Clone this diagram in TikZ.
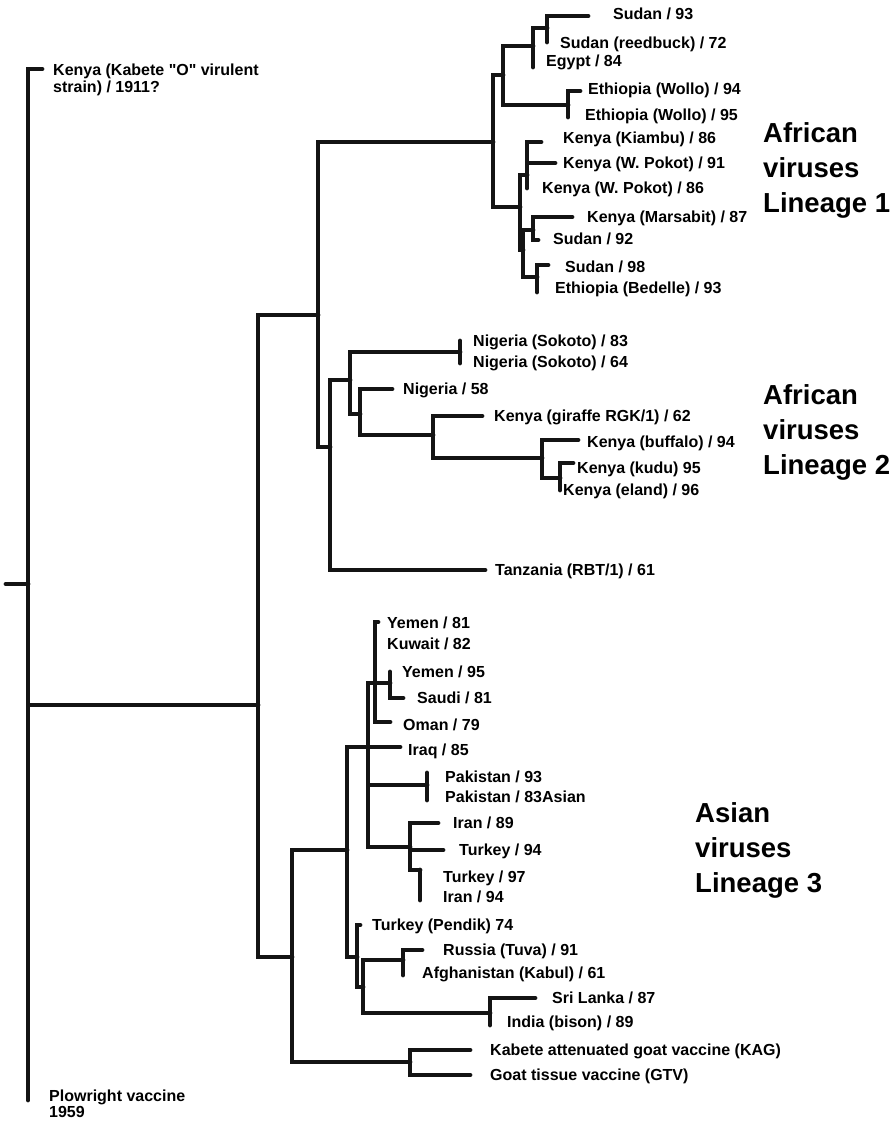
\documentclass[tikz,border=0pt]{standalone}
\usepackage{fontspec}
\setmainfont{Liberation Sans}
\usetikzlibrary{positioning}
\newcommand{\straightquote}{{\XeTeXglyph\XeTeXcharglyph"22\relax}}

\begin{document}
\begin{tikzpicture}[x=1pt,y=-1pt,line cap=round]
		\tikzstyle{branch}=[line width=4.8pt, color=black!92]
		\tikzstyle{tip}=[anchor=west, inner sep=0pt, text height=11.5pt, text depth=0.5pt, font=\bfseries\fontsize{16}{17}\selectfont]
		\tikzstyle{lineage}=[anchor=west, inner sep=0pt, align=left, font=\bfseries\fontsize{27.5}{35}\selectfont]
		\useasboundingbox (0,0) rectangle (891,1123);
		% root and outgroups
		\coordinate (rt) at (6,584);
		\coordinate (r) at (28,584);
		\coordinate (kab) at (42,69);
		\coordinate (plw) at (28,1100);
		\coordinate (m1) at (258,705);
		\coordinate (af) at (318,315);
		\coordinate (as) at (292,957);
		% lineage 1
		\coordinate (l1) at (493,142);
		\coordinate (a1) at (503,75);
		\coordinate (a11) at (533,46);
		\coordinate (a111) at (547,28);
		\coordinate (sud93) at (588,16);
		\coordinate (reed) at (547,42);
		\coordinate (egy) at (533,67);
		\coordinate (a12) at (568,105);
		\coordinate (eth94) at (580,91);
		\coordinate (eth95) at (568,117);
		\coordinate (a2) at (520,207);
		\coordinate (a21) at (527,175);
		\coordinate (kiam) at (541,142);
		\coordinate (pok91) at (555,163);
		\coordinate (pok86) at (527,188);
		\coordinate (a22) at (523,250);
		\coordinate (a221) at (533,230);
		\coordinate (mars) at (572,217);
		\coordinate (sud92) at (538,240);
		\coordinate (a222) at (537,277);
		\coordinate (sud98) at (548,265);
		\coordinate (bed) at (537,292);
		% lineage 2
		\coordinate (l2) at (330,447);
		\coordinate (b1) at (350,380);
		\coordinate (tanz) at (485,570);
		\coordinate (b11) at (460,352);
		\coordinate (sok83) at (460,341);
		\coordinate (sok64) at (460,363);
		\coordinate (b12) at (360,414);
		\coordinate (nig58) at (392,389);
		\coordinate (b121) at (433,435);
		\coordinate (gir) at (482,416);
		\coordinate (b122) at (542,458);
		\coordinate (buf) at (578,440);
		\coordinate (b123) at (560,478);
		\coordinate (kudu) at (573,463);
		\coordinate (eland) at (560,490);
		% lineage 3
		\coordinate (l3) at (347,850);
		\coordinate (iraq) at (400,747);
		\coordinate (c1) at (368,747);
		\coordinate (c11) at (375,683);
		\coordinate (yem81) at (378,622);
		\coordinate (c12) at (390,683);
		\coordinate (yem95) at (390,672);
		\coordinate (saudi) at (403,698);
		\coordinate (oman) at (390,722);
		\coordinate (pk) at (427,785);
		\coordinate (pak93) at (427,773);
		\coordinate (pak83) at (427,800);
		\coordinate (it) at (410,847);
		\coordinate (iran89) at (438,823);
		\coordinate (tur94) at (443,850);
		\coordinate (it2) at (420,870);
		\coordinate (iran94) at (420,900);
		\coordinate (d1) at (357,957);
		\coordinate (pend) at (360,925);
		\coordinate (d2) at (363,987);
		\coordinate (ru) at (403,960);
		\coordinate (tuva) at (422,950);
		\coordinate (kabul) at (403,975);
		\coordinate (sl) at (490,1013);
		\coordinate (lanka) at (535,998);
		\coordinate (bison) at (490,1025);
		\coordinate (kg) at (410,1062);
		\coordinate (kagt) at (470,1050);
		\coordinate (gtvt) at (470,1075);

		\draw[branch] (rt) -- (r) (r) |- (kab) (r) |- (plw) (r) |- (m1);
		\draw[branch] (m1) |- (af) (m1) |- (as) (af) |- (l1) (af) |- (l2);
		\draw[branch] (l1) |- (a1) (l1) |- (a2) (a1) |- (a11) (a1) |- (a12);
		\draw[branch] (a11) |- (a111) (a11) |- (egy) (a111) |- (sud93) (a111) |- (reed);
		\draw[branch] (a12) |- (eth94) (a12) |- (eth95);
		\draw[branch] (a2) |- (a21) (a2) |- (a22) (a21) |- (kiam) (a21) |- (pok91) (a21) |- (pok86);
		\draw[branch] (a22) |- (a221) (a22) |- (a222) (a221) |- (mars) (a221) |- (sud92) (a222) |- (sud98) (a222) |- (bed);
		\draw[branch] (l2) |- (b1) (l2) |- (tanz) (b1) |- (b11) (b1) |- (b12) (b11) |- (sok83) (b11) |- (sok64);
		\draw[branch] (b12) |- (nig58) (b12) |- (b121) (b121) |- (gir) (b121) |- (b122);
		\draw[branch] (b122) |- (buf) (b122) |- (b123) (b123) |- (kudu) (b123) |- (eland);
		\draw[branch] (as) |- (l3) (as) |- (kg) (kg) |- (kagt) (kg) |- (gtvt);
		\draw[branch] (l3) |- (iraq) (l3) |- (c1) (l3) |- (d1);
		\draw[branch] (c1) |- (c11) (c1) |- (pk) (c1) |- (it);
		\draw[branch] (c11) |- (yem81) (c11) |- (c12) (c11) |- (oman) (c12) |- (yem95) (c12) |- (saudi);
		\draw[branch] (pk) |- (pak93) (pk) |- (pak83) (it) |- (iran89) (it) |- (tur94) (it) |- (it2) (it2) |- (iran94);
		\draw[branch] (d1) |- (pend) (d1) |- (d2) (d2) |- (ru) (d2) |- (sl);
		\draw[branch] (ru) |- (tuva) (ru) |- (kabul) (sl) |- (lanka) (sl) |- (bison);

		% tip labels
		\node[anchor=west, inner sep=0pt, align=left, font=\bfseries\fontsize{16}{16.5}\selectfont] (nkab) at (53,80) {Kenya (Kabete \straightquote O\straightquote\ virulent\\strain) / 1911?};
		\node[anchor=west, inner sep=0pt, align=left, font=\bfseries\fontsize{16}{16.5}\selectfont] (nplw) at (49,1104) {Plowright vaccine\\1959};
		\node[tip] (nsud93) at (613,14) {Sudan / 93};
		\node[tip] (nreed) at (560,43) {Sudan (reedbuck) / 72};
		\node[tip] (negy) at (546,61) {Egypt / 84};
		\node[tip] (neth94) at (588,89) {Ethiopia (Wollo) / 94};
		\node[tip] (neth95) at (585,115) {Ethiopia (Wollo) / 95};
		\node[tip] (nkiam) at (563,138) {Kenya (Kiambu) / 86};
		\node[tip] (npok91) at (563,163) {Kenya (W. Pokot) / 91};
		\node[tip] (npok86) at (542,188) {Kenya (W. Pokot) / 86};
		\node[tip] (nmars) at (587,217) {Kenya (Marsabit) / 87};
		\node[tip] (nsud92) at (553,239) {Sudan / 92};
		\node[tip] (nsud98) at (565,267) {Sudan / 98};
		\node[tip] (nbed) at (555,288) {Ethiopia (Bedelle) / 93};
		\node[tip] (nsok83) at (473,341) {Nigeria (Sokoto) / 83};
		\node[tip] (nsok64) at (473,362) {Nigeria (Sokoto) / 64};
		\node[tip] (nnig58) at (403,389) {Nigeria / 58};
		\node[tip] (ngir) at (494,416) {Kenya (giraffe RGK/1) / 62};
		\node[tip] (nbuf) at (587,442) {Kenya (buffalo) / 94};
		\node[tip] (nkudu) at (577,468) {Kenya (kudu) 95};
		\node[tip] (neland) at (563,490) {Kenya (eland) / 96};
		\node[tip] (ntanz) at (495,570) {Tanzania (RBT/1) / 61};
		\node[tip] (nyem81) at (387,623) {Yemen / 81};
		\node[tip] (nkuw) at (387,644) {Kuwait / 82};
		\node[tip] (nyem95) at (402,672) {Yemen / 95};
		\node[tip] (nsaudi) at (417,698) {Saudi / 81};
		\node[tip] (noman) at (403,725) {Oman / 79};
		\node[tip] (niraq) at (408,750) {Iraq / 85};
		\node[tip] (npak93) at (445,777) {Pakistan / 93};
		\node[tip] (npak83) at (445,797) {Pakistan / 83Asian};
		\node[tip] (niran89) at (453,823) {Iran / 89};
		\node[tip] (ntur94) at (459,850) {Turkey / 94};
		\node[tip] (ntur97) at (443,877) {Turkey / 97};
		\node[tip] (niran94) at (443,897) {Iran / 94};
		\node[tip] (npend) at (372,925) {Turkey (Pendik) 74};
		\node[tip] (ntuva) at (443,950) {Russia (Tuva) / 91};
		\node[tip] (nkabul) at (422,973) {Afghanistan (Kabul) / 61};
		\node[tip] (nlanka) at (552,998) {Sri Lanka / 87};
		\node[tip] (nbison) at (507,1022) {India (bison) / 89};
		\node[tip] (nkag) at (490,1050) {Kabete attenuated goat vaccine (KAG)};
		\node[tip] (ngtv) at (490,1075) {Goat tissue vaccine (GTV)};

		% lineage names
		\node[lineage] (lin1) at (763,170) {African\\viruses\\Lineage 1};
		\node[lineage] (lin2) at (763,432) {African\\viruses\\Lineage 2};
		\node[lineage] (lin3) at (695,850) {Asian\\viruses\\Lineage 3};
	\end{tikzpicture}
\end{document}
